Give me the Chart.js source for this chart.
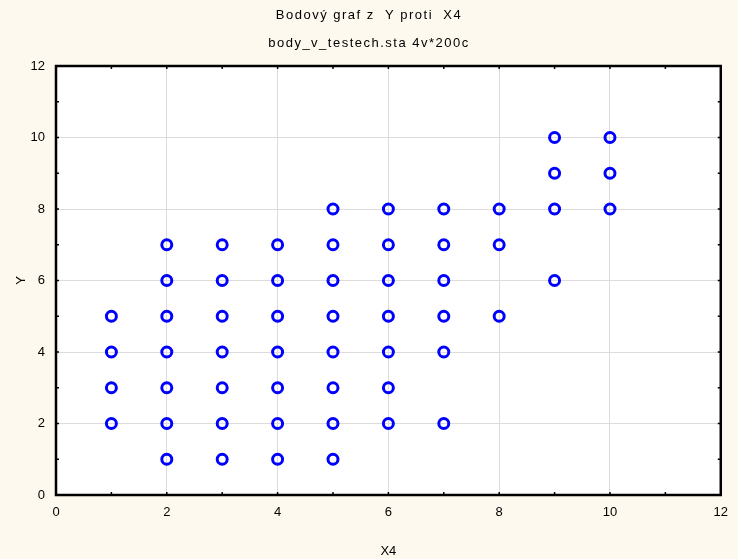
<!DOCTYPE html>
<html>
<head>
<meta charset="utf-8">
<script src="https://cdn.jsdelivr.net/npm/chart.js@4/dist/chart.umd.min.js"></script>
<style>
  html, body { margin: 0; padding: 0; background: #fef9ee; }
  #wrap { width: 738px; height: 559px; }
</style>
</head>
<body>
<div id="wrap"><canvas id="chart" width="738" height="559"></canvas></div>
<script>
// Body z grafu (X4, Y)
const x4 = [1,1,1,1, 2,2,2,2,2,2,2, 3,3,3,3,3,3,3, 4,4,4,4,4,4,4, 5,5,5,5,5,5,5,5,
            6,6,6,6,6,6,6, 7,7,7,7,7,7, 8,8,8, 9,9,9,9, 10,10,10];
const y  = [2,3,4,5, 1,2,3,4,5,6,7, 1,2,3,4,5,6,7, 1,2,3,4,5,6,7, 1,2,3,4,5,6,7,8,
            2,3,4,5,6,7,8, 2,4,5,6,7,8, 5,7,8, 6,8,9,10, 8,9,10];
const tickValues = [0, 2, 4, 6, 8, 10, 12];
const titleText = 'Bodový graf z  Y proti  X4';
const subtitleText = 'body_v_testech.sta 4v*200c';

const points = x4.map((v, i) => ({ x: v, y: y[i] }));
const fontFamily = '"Liberation Sans", Arial, sans-serif';

// pozadi, ramecek, kratke znacky dovnitr a nadpisy
const framePlugin = {
  id: 'frame',
  beforeDraw(chart) {
    const { ctx, chartArea: a } = chart;
    ctx.save();
    ctx.fillStyle = '#fef9ee';
    ctx.fillRect(0, 0, chart.width, chart.height);
    ctx.fillStyle = '#ffffff';
    ctx.fillRect(a.left, a.top, a.right - a.left, a.bottom - a.top);
    ctx.restore();
  },
  afterDraw(chart) {
    const { ctx, chartArea: a, scales } = chart;
    ctx.save();
    ctx.strokeStyle = '#000';
    ctx.lineWidth = 1.5;
    for (let v = 0; v <= 12; v++) {
      const px = scales.x.getPixelForValue(v);
      const py = scales.y.getPixelForValue(v);
      ctx.beginPath();
      ctx.moveTo(px, a.bottom); ctx.lineTo(px, a.bottom - 3);
      ctx.moveTo(px, a.top); ctx.lineTo(px, a.top + 3);
      ctx.moveTo(a.left, py); ctx.lineTo(a.left + 3, py);
      ctx.moveTo(a.right, py); ctx.lineTo(a.right - 3, py);
      ctx.stroke();
    }
    ctx.lineWidth = 2.5;
    ctx.strokeRect(a.left, a.top, a.right - a.left, a.bottom - a.top);

    // nadpisy s prostrkanymi pismeny
    ctx.fillStyle = '#000';
    ctx.font = '13px ' + fontFamily;
    ctx.textAlign = 'center';
    ctx.textBaseline = 'middle';
    ctx.letterSpacing = '1.5px';
    const cx = chart.width / 2;
    ctx.fillText(titleText, cx, 15);
    ctx.fillText(subtitleText, cx, 43);
    ctx.restore();
  }
};

const font = { family: fontFamily, size: 13 };

new Chart(document.getElementById('chart'), {
  type: 'scatter',
  data: {
    datasets: [{
      label: 'Y',
      data: points,
      pointStyle: 'circle',
      pointRadius: 5,
      pointHoverRadius: 5,
      pointBorderWidth: 3,
      pointBorderColor: '#0000ff',
      pointBackgroundColor: 'rgba(0,0,0,0)'
    }]
  },
  options: {
    responsive: false,
    animation: false,
    layout: { padding: { left: 0, right: 16, top: 66, bottom: 0 } },
    plugins: {
      legend: { display: false },
      tooltip: { enabled: false },
      title: { display: false },
      subtitle: { display: false }
    },
    scales: {
      x: {
        type: 'linear',
        min: 0, max: 12,
        afterBuildTicks: s => { s.ticks = tickValues.map(v => ({ value: v })); },
        afterFit: s => { s.height = 64; },
        ticks: { color: '#000', font: font, padding: 10, maxRotation: 0 },
        grid: { color: '#dcdcdc', lineWidth: 1, drawTicks: false },
        border: { display: false },
        title: { display: true, text: 'X4', color: '#000', font: font, padding: { top: 4, bottom: 0 } }
      },
      y: {
        type: 'linear',
        min: 0, max: 12,
        afterBuildTicks: s => { s.ticks = tickValues.map(v => ({ value: v })); },
        afterFit: s => { s.width = 56; },
        ticks: { color: '#000', font: font, padding: 11 },
        grid: { color: '#dcdcdc', lineWidth: 1, drawTicks: false },
        border: { display: false },
        title: { display: true, text: 'Y', color: '#000', font: font, padding: { top: 14, bottom: 4 } }
      }
    }
  },
  plugins: [framePlugin]
});
</script>
</body>
</html>
